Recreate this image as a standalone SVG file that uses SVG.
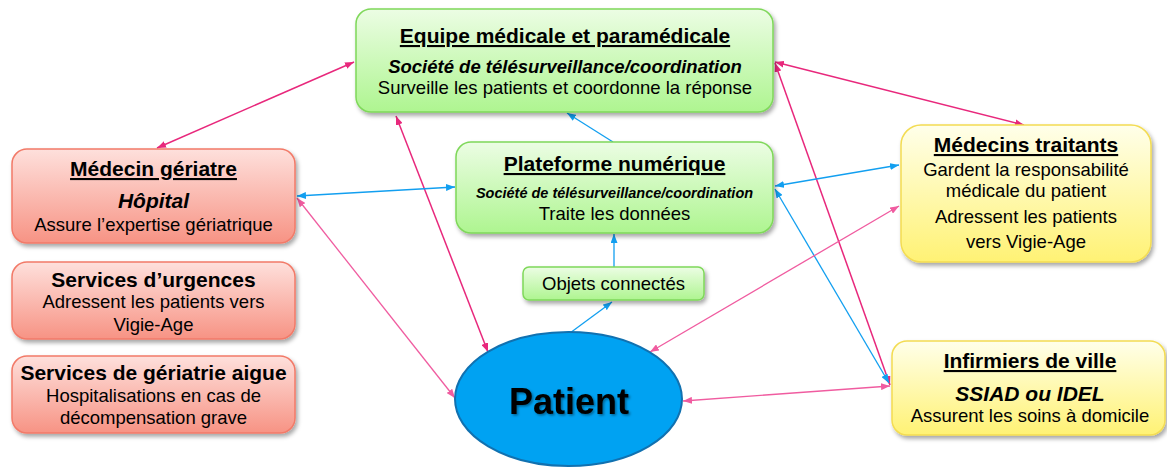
<svg xmlns="http://www.w3.org/2000/svg" width="1167" height="468" viewBox="0 0 1167 468">
<defs>
<linearGradient id="gGreen" x1="0" y1="0" x2="0" y2="1"><stop offset="0" stop-color="#ecfde4"/><stop offset="1" stop-color="#aef590"/></linearGradient>
<linearGradient id="gRed" x1="0" y1="0" x2="0" y2="1"><stop offset="0" stop-color="#fee0dc"/><stop offset="1" stop-color="#f79384"/></linearGradient>
<linearGradient id="gYellow" x1="0" y1="0" x2="0" y2="1"><stop offset="0" stop-color="#ffffea"/><stop offset="1" stop-color="#fff274"/></linearGradient>
<filter id="sh" x="-10%" y="-10%" width="125%" height="135%"><feDropShadow dx="2" dy="3" stdDeviation="2" flood-color="#000" flood-opacity="0.35"/></filter>
<filter id="tsh" x="-10%" y="-10%" width="130%" height="140%"><feDropShadow dx="1.5" dy="1.5" stdDeviation="1" flood-color="#000" flood-opacity="0.4"/></filter>
<marker id="mPD" viewBox="0 0 10 10" refX="10" refY="5" markerWidth="9" markerHeight="7" markerUnits="userSpaceOnUse" orient="auto-start-reverse" preserveAspectRatio="none"><path d="M0,0 L10,5 L0,10 z" fill="#e8287c"/></marker>
<marker id="mPL" viewBox="0 0 10 10" refX="10" refY="5" markerWidth="9" markerHeight="7" markerUnits="userSpaceOnUse" orient="auto-start-reverse" preserveAspectRatio="none"><path d="M0,0 L10,5 L0,10 z" fill="#f05ca0"/></marker>
<marker id="mB" viewBox="0 0 10 10" refX="10" refY="5" markerWidth="9" markerHeight="7" markerUnits="userSpaceOnUse" orient="auto-start-reverse" preserveAspectRatio="none"><path d="M0,0 L10,5 L0,10 z" fill="#129ff0"/></marker>
</defs>
<style>
text{font-family:"Liberation Sans",Arial,sans-serif;fill:#000;text-anchor:middle}
.t{font-size:21px;font-weight:bold}
.u{text-decoration:underline}
.b{font-size:18.5px}
.bi{font-size:18.5px;font-weight:bold;font-style:italic}
.bi2{font-size:21px;font-weight:bold;font-style:italic}
.green{fill:url(#gGreen);stroke:#7fd85a;stroke-width:1.5}
.red{fill:url(#gRed);stroke:#f27a68;stroke-width:1.5}
.yellow{fill:url(#gYellow);stroke:#f3dc52;stroke-width:1.5}
.pd{stroke:#e8287c;stroke-width:1.5;fill:none;marker-end:url(#mPD)}
.pd2{marker-start:url(#mPD)}
.pl{stroke:#f05ca0;stroke-width:1.3;fill:none;marker-end:url(#mPL);marker-start:url(#mPL)}
.bl{stroke:#129ff0;stroke-width:1.3;fill:none;marker-end:url(#mB)}
.bl2{marker-start:url(#mB)}
</style>

<g id="connectors">
<line class="pd pd2" x1="354" y1="62" x2="157" y2="148"/>
<line class="pd pd2" x1="775" y1="62" x2="1024" y2="125"/>
<line class="pd pd2" x1="775" y1="63" x2="890" y2="385"/>
<line class="pd pd2" x1="396" y1="116" x2="488" y2="352"/>
<line class="bl bl2" x1="775" y1="186" x2="899" y2="165"/>
<line class="bl bl2" x1="775" y1="189" x2="889" y2="383"/>
<line class="pl" x1="650" y1="352" x2="899" y2="206"/>
<line class="pl" x1="683" y1="401" x2="890" y2="386"/>
<line class="pl" x1="297" y1="198" x2="455" y2="398"/>
<line class="bl bl2" x1="297" y1="196" x2="455" y2="187"/>
<line class="bl" x1="613" y1="142" x2="567" y2="113"/>
<line class="bl" x1="614" y1="267" x2="614" y2="234"/>
<line class="bl" x1="570" y1="333" x2="612" y2="302"/>
</g>

<g id="equipe">
<rect class="green" filter="url(#sh)" x="356" y="9" width="417" height="103" rx="15"/>
<text class="t u" x="565" y="43">Equipe médicale et paramédicale</text>
<text class="bi" x="565" y="73">Société de télésurveillance/coordination</text>
<text class="b" x="565" y="94">Surveille les patients et coordonne la réponse</text>
</g>

<g id="plateforme">
<rect class="green" filter="url(#sh)" x="456" y="142" width="317" height="91" rx="15"/>
<text class="t u" x="614.5" y="171">Plateforme numérique</text>
<text class="bi" style="font-size:14.5px" x="614.5" y="198">Société de télésurveillance/coordination</text>
<text class="b" x="614.5" y="220">Traite les données</text>
</g>

<g id="objets">
<rect class="green" filter="url(#sh)" x="523" y="267" width="181" height="33" rx="6"/>
<text class="b" x="613.5" y="290">Objets connectés</text>
</g>

<g id="medecin-geriatre">
<rect class="red" filter="url(#sh)" x="12" y="149" width="283" height="94" rx="15"/>
<text class="t u" x="153.5" y="176">Médecin gériatre</text>
<text class="bi2" x="153.5" y="208">Hôpital</text>
<text class="b" x="153.5" y="231">Assure l’expertise gériatrique</text>
</g>

<g id="urgences">
<rect class="red" filter="url(#sh)" x="12" y="262" width="283" height="77" rx="15"/>
<text class="t" x="153.5" y="287">Services d’urgences</text>
<text class="b" x="153.5" y="308">Adressent les patients vers</text>
<text class="b" x="153.5" y="331">Vigie-Age</text>
</g>

<g id="geriatrie-aigue">
<rect class="red" filter="url(#sh)" x="12" y="356" width="283" height="77" rx="15"/>
<text class="t" x="153.5" y="380">Services de gériatrie aigue</text>
<text class="b" x="153.5" y="402">Hospitalisations en cas de</text>
<text class="b" x="153.5" y="424">décompensation grave</text>
</g>

<g id="medecins-traitants">
<rect class="yellow" filter="url(#sh)" x="901" y="125" width="250" height="137" rx="20"/>
<text class="t u" x="1026" y="152">Médecins traitants</text>
<text class="b" x="1026" y="176">Gardent la responsabilité</text>
<text class="b" x="1026" y="197">médicale du patient</text>
<text class="b" x="1026" y="223">Adressent les patients</text>
<text class="b" x="1026" y="248">vers Vigie-Age</text>
</g>

<g id="infirmiers">
<rect class="yellow" filter="url(#sh)" x="892" y="341" width="273" height="94" rx="15"/>
<text class="t u" x="1030" y="368">Infirmiers de ville</text>
<text class="bi2" x="1030" y="401">SSIAD ou IDEL</text>
<text class="b" x="1030" y="422">Assurent les soins à domicile</text>
</g>

<g id="patient">
<ellipse cx="568.5" cy="399" rx="113.5" ry="67" fill="#00a2f2" stroke="#1171b0" stroke-width="2"/>
<text filter="url(#tsh)" style="font-size:36px;font-weight:bold" x="569" y="414">Patient</text>
</g>
</svg>
